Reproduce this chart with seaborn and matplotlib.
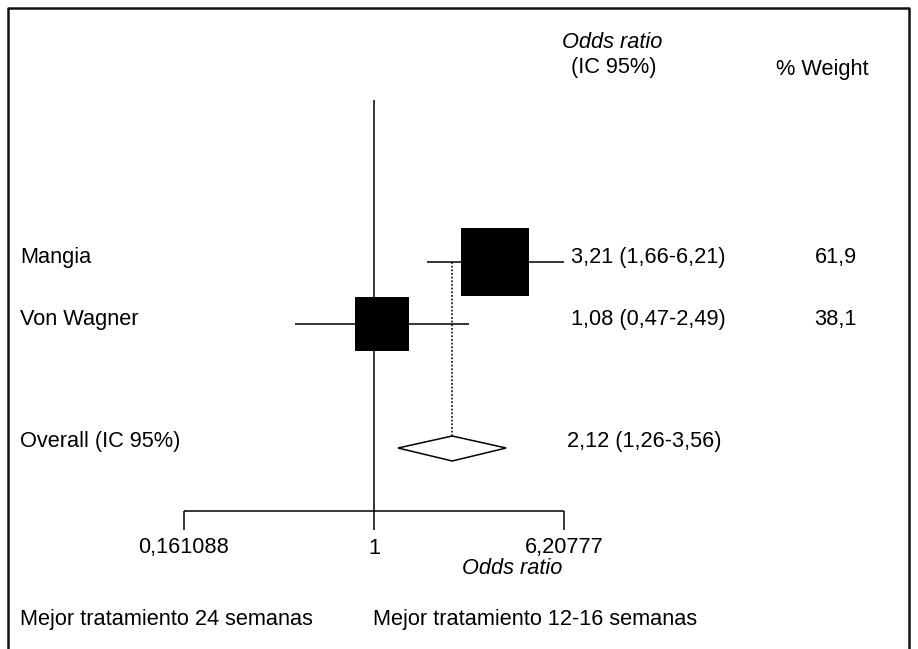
import numpy as np
import matplotlib
matplotlib.use("Agg")
import matplotlib.pyplot as plt
import seaborn as sns

studies = ["Mangia", "Von Wagner"]
odds = [3.21, 1.08]
ci_low = [1.66, 0.47]
ci_high = [6.21, 2.49]
weights = [61.9, 38.1]
or_labels = ["3,21 (1,66-6,21)", "1,08 (0,47-2,49)"]
weight_labels = ["61,9", "38,1"]

overall_label = "Overall (IC 95%)"
overall_or = 2.12
overall_low = 1.26
overall_high = 3.56
overall_text = "2,12 (1,26-3,56)"

ticks = [0.161088, 1, 6.20777]
tick_labels = ["0,161088", "1", "6,20777"]

sns.set_theme(style="white")
plt.rcParams["font.family"] = ["Liberation Sans", "DejaVu Sans"]
plt.rcParams["text.color"] = "black"
fs = 15.7

fig = plt.figure(figsize=(9.18, 6.49), dpi=100)
ax = fig.add_axes([0, 0, 1, 1])
ax.set_xscale("log")
# pixel mapping: 0.161088 -> 184 px, 6.20777 -> 564 px
ppl = 380 / np.log(ticks[2] / ticks[0])
x_left = np.exp(np.log(ticks[0]) - 184 / ppl)
x_right = np.exp(np.log(ticks[0]) + (918 - 184) / ppl)
ax.set_xlim(x_left, x_right)
ax.set_ylim(649, 0)
ax.axis("off")

# frame (open at the bottom)
trans_ax = ax.transAxes
ax.plot([8 / 918, 8 / 918, 909 / 918, 909 / 918], [0, 1 - 8 / 649, 1 - 8 / 649, 0],
        transform=trans_ax, color="#111111", lw=1.8, clip_on=False)

row_y = [262, 324]
overall_y = 448

# line of no effect
ax.vlines(1, 100, 511, color="black", lw=1.1)

# CIs
ax.hlines(row_y, ci_low, ci_high, color="black", lw=1.1)

# squares sized by weight
sns.scatterplot(x=odds, y=row_y, marker="s", s=np.array(weights) * 38.5,
                color="black", edgecolor="black", linewidth=0, ax=ax, zorder=3,
                legend=False)

# overall dotted line and diamond
ax.vlines(overall_or, row_y[0], overall_y + 12, color="black", lw=1.1,
          linestyles=(0, (1.2, 1.2)))
dx = [overall_low, overall_or, overall_high, overall_or]
dy = [overall_y, overall_y - 12, overall_y, overall_y + 13]
ax.fill(dx, dy, facecolor="white", edgecolor="black", lw=1.1, zorder=4)

# x axis
ax.hlines(511, ticks[0], ticks[-1], color="black", lw=1.1)
ax.vlines(ticks, 511, 530, color="black", lw=1.1)
for t, lab in zip(ticks, tick_labels):
    ax.text(t, 548, lab, ha="center", va="center", fontsize=fs)
ax.text(512 / 918, 1 - 568 / 649, "Odds ratio", transform=trans_ax,
        ha="center", va="center", fontsize=fs, style="italic")

# headers
ax.text(612 / 918, 1 - 43 / 649, "Odds ratio", transform=trans_ax,
        ha="center", va="center", fontsize=fs, style="italic")
ax.text(614 / 918, 1 - 68 / 649, "(IC 95%)", transform=trans_ax,
        ha="center", va="center", fontsize=fs)
ax.text(822 / 918, 1 - 70 / 649, "% Weight", transform=trans_ax,
        ha="center", va="center", fontsize=fs)

# rows
for y, name, orl, wl in zip(row_y, studies, or_labels, weight_labels):
    yy = 1 - (y - 5) / 649
    ax.text(20 / 918, yy, name, transform=trans_ax, ha="left", va="center", fontsize=fs)
    ax.text(571 / 918, yy, orl, transform=trans_ax, ha="left", va="center", fontsize=fs)
    ax.text(857 / 918, yy, wl, transform=trans_ax, ha="right", va="center", fontsize=fs)

yy = 1 - (overall_y - 6) / 649
ax.text(20 / 918, yy, overall_label, transform=trans_ax, ha="left", va="center", fontsize=fs)
ax.text(567 / 918, yy, overall_text, transform=trans_ax, ha="left", va="center", fontsize=fs)

# bottom captions
ax.text(20 / 918, 1 - 620 / 649, "Mejor tratamiento 24 semanas", transform=trans_ax,
        ha="left", va="center", fontsize=fs)
ax.text(373 / 918, 1 - 620 / 649, "Mejor tratamiento 12-16 semanas", transform=trans_ax,
        ha="left", va="center", fontsize=fs)

fig.savefig("out.png", dpi=100)
